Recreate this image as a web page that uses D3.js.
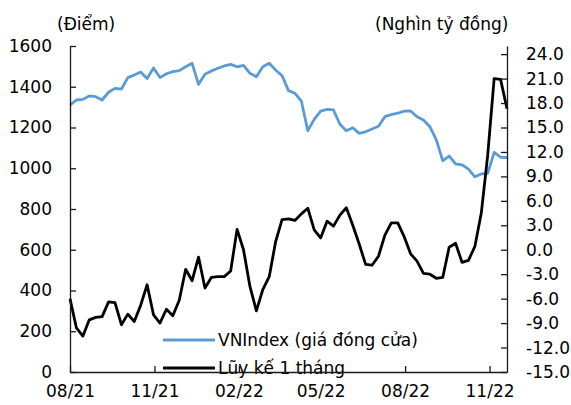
<!DOCTYPE html>
<html>
<head>
<meta charset="utf-8">
<script src="https://cdn.jsdelivr.net/npm/d3@7"></script>
<style>
    body { margin: 0; background: #fff; }
    text { font-family: "DejaVu Sans", Verdana, sans-serif; fill: #000; }
</style>
</head>
<body>
<div id="chart"></div>
<script>
// Weekly dates (closing Fridays)
const dates = [
    "2021-08-06", "2021-08-13", "2021-08-20", "2021-08-27", "2021-09-03", "2021-09-10",
    "2021-09-17", "2021-09-24", "2021-10-01", "2021-10-08", "2021-10-15", "2021-10-22",
    "2021-10-29", "2021-11-05", "2021-11-12", "2021-11-19", "2021-11-26", "2021-12-03",
    "2021-12-10", "2021-12-17", "2021-12-24", "2021-12-31", "2022-01-07", "2022-01-14",
    "2022-01-21", "2022-01-28", "2022-02-04", "2022-02-11", "2022-02-18", "2022-02-25",
    "2022-03-04", "2022-03-11", "2022-03-18", "2022-03-25", "2022-04-01", "2022-04-08",
    "2022-04-15", "2022-04-22", "2022-04-29", "2022-05-06", "2022-05-13", "2022-05-20",
    "2022-05-27", "2022-06-03", "2022-06-10", "2022-06-17", "2022-06-24", "2022-07-01",
    "2022-07-08", "2022-07-15", "2022-07-22", "2022-07-29", "2022-08-05", "2022-08-12",
    "2022-08-19", "2022-08-26", "2022-09-02", "2022-09-09", "2022-09-16", "2022-09-23",
    "2022-09-30", "2022-10-07", "2022-10-14", "2022-10-21", "2022-10-28", "2022-11-04",
    "2022-11-11", "2022-11-18", "2022-11-25"
];

// VNIndex closing price (left axis, points)
const vnIndex = [
    1310, 1335, 1338, 1355, 1351, 1335, 1373, 1392, 1388, 1445,
    1458, 1472, 1441, 1492, 1445, 1464, 1474, 1479, 1498, 1515,
    1412, 1461, 1477, 1491, 1502, 1510, 1498, 1505, 1466, 1449,
    1498, 1515, 1482, 1454, 1381, 1368, 1330, 1184, 1240, 1280,
    1289, 1286, 1216, 1184, 1199, 1171, 1179, 1193, 1206, 1253,
    1263, 1270, 1280, 1281, 1253, 1237, 1204, 1139, 1037, 1060,
    1021, 1017, 996, 958, 972, 975, 1078, 1054, 1052
];

// 1-month cumulative net flow (right axis, thousand bn VND)
const cumulative = [
    -6.0, -9.6, -10.6, -8.6, -8.3, -8.2, -6.4, -6.5, -9.2, -7.9,
    -8.8, -6.8, -4.3, -8.0, -9.0, -7.3, -8.1, -6.2, -2.4, -3.8,
    -0.9, -4.7, -3.4, -3.3, -3.3, -2.6, 2.5, 0.0, -4.5, -7.5,
    -4.9, -3.3, 1.0, 3.7, 3.8, 3.6, 4.4, 5.1, 2.45, 1.45,
    3.5, 2.9, 4.25, 5.15, 3.0, 0.7, -1.8, -1.9, -0.8, 1.8,
    3.3, 3.3, 1.6, -0.5, -1.4, -2.9, -3.0, -3.5, -3.4, 0.3,
    0.8, -1.55, -1.3, 0.4, 4.5, 11.6, 21.0, 20.9, 17.3
];

const xTicks = ["2021-08-06", "2021-11-06", "2022-02-06", "2022-05-06", "2022-08-06", "2022-11-06"];
const leftTicks = [0, 200, 400, 600, 800, 1000, 1200, 1400, 1600];
const rightTicks = [-15, -12, -9, -6, -3, 0, 3, 6, 9, 12, 15, 18, 21, 24];

const seriesNames = ["VNIndex (giá đóng cửa)", "Lũy kế 1 tháng"];
const seriesColors = ["#5b9bd5", "#000000"];

function drawChart() {
    const W = 571, H = 405;
    const plot = { left: 70, right: 507, top: 46, bottom: 372 };
    const fontSize = "17px";
    const parse = d3.timeParse("%Y-%m-%d");

    const svg = d3.select("#chart").append("svg")
        .attr("width", W)
        .attr("height", H);

    const x = d3.scaleTime()
        .domain([parse(dates[0]), parse(dates[dates.length - 1])])
        .range([plot.left, plot.right]);
    const yL = d3.scaleLinear().domain([0, 1600]).range([plot.bottom, plot.top]);
    const yR = d3.scaleLinear().domain([-15, 25]).range([plot.bottom, plot.top]);

    const rows = dates.map((d, i) => ({ date: parse(d), vn: vnIndex[i], cum: cumulative[i] }));

    // lines
    svg.append("path")
        .datum(rows)
        .attr("fill", "none")
        .attr("stroke", seriesColors[0])
        .attr("stroke-width", 2.8)
        .attr("stroke-linejoin", "round")
        .attr("d", d3.line().x(d => x(d.date)).y(d => yL(d.vn)));

    svg.append("path")
        .datum(rows)
        .attr("fill", "none")
        .attr("stroke", seriesColors[1])
        .attr("stroke-width", 2.8)
        .attr("stroke-linejoin", "round")
        .attr("d", d3.line().x(d => x(d.date)).y(d => yR(d.cum)));

    // legend
    const legend = svg.append("g").attr("transform", "translate(163,340)");
    seriesNames.forEach((name, i) => {
        legend.append("line")
            .attr("x1", 0).attr("x2", 52)
            .attr("y1", i * 28).attr("y2", i * 28)
            .attr("stroke", seriesColors[i])
            .attr("stroke-width", 2.8);
        legend.append("text")
            .attr("x", 55)
            .attr("y", i * 28)
            .attr("dy", "0.36em")
            .style("font-size", fontSize)
            .text(name);
    });

    // axes
    const axisColor = "#1a1a1a";
    const gx = svg.append("g")
        .attr("transform", `translate(0,${plot.bottom})`)
        .call(d3.axisBottom(x)
            .tickValues(xTicks.map(parse))
            .tickFormat(d3.timeFormat("%m/%y"))
            .tickSize(-6)
            .tickSizeOuter(0)
            .tickPadding(14));

    const gl = svg.append("g")
        .attr("transform", `translate(${plot.left},0)`)
        .call(d3.axisLeft(yL)
            .tickValues(leftTicks)
            .tickFormat(d3.format("d"))
            .tickSize(-6)
            .tickSizeOuter(0)
            .tickPadding(18));

    const gr = svg.append("g")
        .attr("transform", `translate(${plot.right},0)`)
        .call(d3.axisRight(yR)
            .tickValues(rightTicks)
            .tickFormat(d => d3.format(".1f")(d).replace("−", "-"))
            .tickSize(-6)
            .tickSizeOuter(0)
            .tickPadding(19));

    [gx, gl, gr].forEach(g => {
        g.select(".domain").attr("stroke", axisColor).attr("stroke-width", 1.3);
        g.selectAll(".tick line").attr("stroke", axisColor).attr("stroke-width", 1.3);
        g.selectAll("text")
            .style("font-size", fontSize)
            .style("font-family", "'DejaVu Sans', Verdana, sans-serif")
            .attr("fill", "#000");
    });
    gx.selectAll(".tick text").attr("dy", "0.71em").attr("y", 13);

    // unit labels
    svg.append("text")
        .attr("x", 57).attr("y", 30)
        .style("font-size", fontSize)
        .text("(Điểm)");

    svg.append("text")
        .attr("x", 375).attr("y", 30)
        .style("font-size", fontSize)
        .text("(Nghìn tỷ đồng)");
}

drawChart();
</script>
</body>
</html>
